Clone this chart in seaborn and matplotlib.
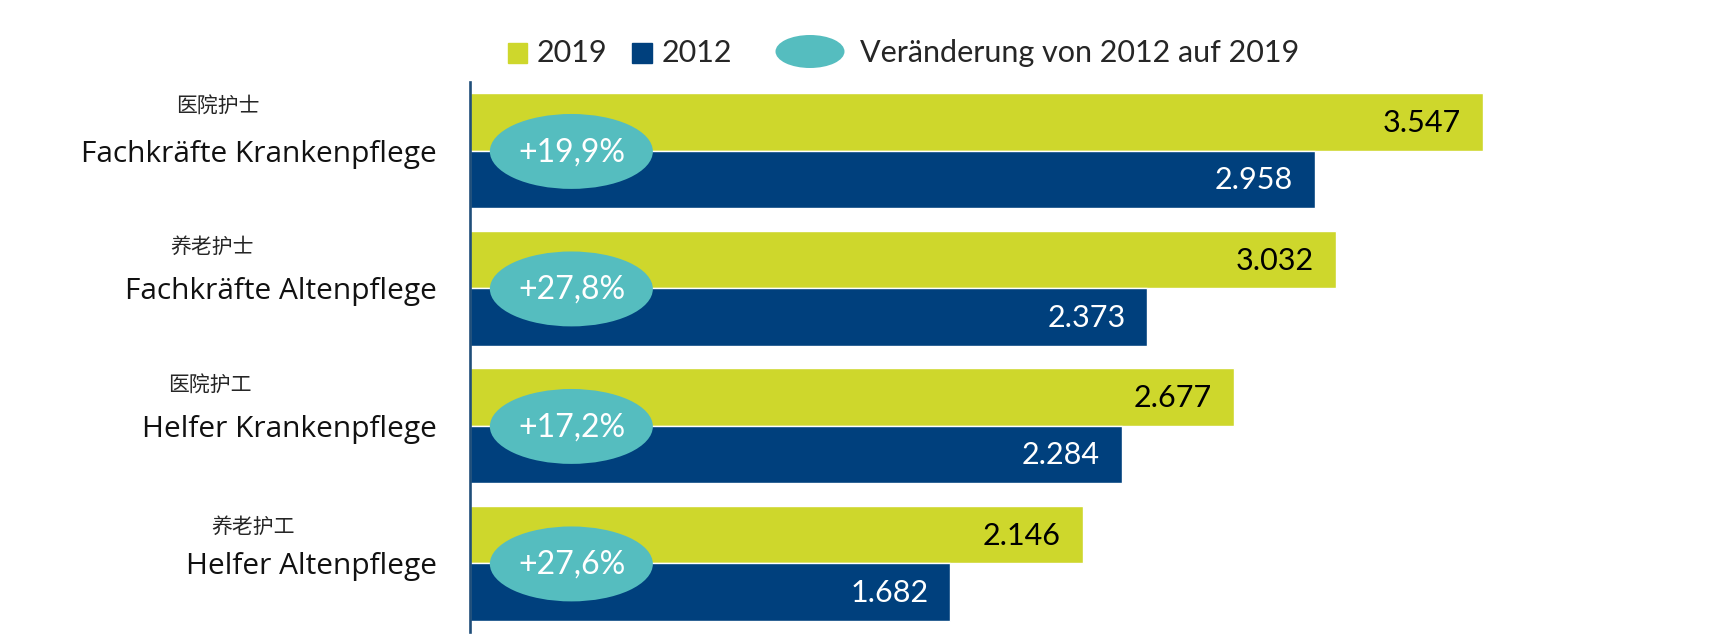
import pandas as pd
import matplotlib.pyplot as plt
import seaborn as sns
from matplotlib.patches import Ellipse, Rectangle

# Data
categories = ['Fachkräfte Krankenpflege', 'Fachkräfte Altenpflege',
              'Helfer Krankenpflege', 'Helfer Altenpflege']
categories_zh = ['医院护士', '养老护士', '医院护工', '养老护工']
values_2019 = [3547, 3032, 2677, 2146]
values_2012 = [2958, 2373, 2284, 1682]
years = ['2019', '2012']

GREEN = '#CED72C'
BLUE = '#00407D'
TEAL = '#55BDBF'

W, H = 1709, 634
fx = lambda px: px / W
fy = lambda py: 1 - py / H

df = pd.DataFrame({
    'category': categories * 2,
    'year': ['2019'] * 4 + ['2012'] * 4,
    'value': values_2019 + values_2012,
})

sns.set_style('white')
plt.rcParams['font.family'] = ['Lato', 'Noto Sans CJK SC', 'DejaVu Sans']
WIDE = ['Open Sans', 'DejaVu Sans']

fig = plt.figure(figsize=(W / 100, H / 100), dpi=100)
ax = fig.add_axes([fx(470), fy(632), 1142 / W, 550 / H])

sns.barplot(data=df, y='category', x='value', hue='year', hue_order=years,
            order=categories, palette={'2019': GREEN, '2012': BLUE},
            orient='h', width=0.836, gap=0, saturation=1, ax=ax, legend=False)

ax.set_xlim(0, 4000)
ax.set_ylim(3.5, -0.5)

# value labels inside the bar ends
for container, color in zip(ax.containers, ['black', 'white']):
    for bar in container:
        v = bar.get_width()
        ax.annotate(f'{int(v):,}'.replace(',', '.'),
                    xy=(v, bar.get_y() + bar.get_height() / 2),
                    xytext=(-22, -1), textcoords='offset pixels',
                    ha='right', va='center', fontsize=22, color=color)

# change ellipses
for i, (a, b) in enumerate(zip(values_2019, values_2012)):
    pct = (a / b - 1) * 100
    ax.add_patch(Ellipse((355, i + 0.005), 571, 0.545, color=TEAL, lw=0, zorder=5))
    ax.text(357, i + 0.01, f'+{pct:.1f}%'.replace('.', ','), ha='center', va='center',
            fontsize=23, color='white', zorder=6)

# y labels (German) and Chinese labels above
ax.set_yticks(range(len(categories)))
ax.set_yticklabels(categories, fontsize=21.5, family=WIDE, color='#111111')
ax.tick_params(axis='y', length=0, pad=24)
ax.set_xticks([])
ax.set_xlabel('')
ax.set_ylabel('')

zh_dx = [-252, -258, -260, -217]
zh_dy = [45, 41, 41, 36]
for i, (lab, dx, dy) in enumerate(zip(categories_zh, zh_dx, zh_dy)):
    ax.annotate(lab, xy=(0, i), xycoords=('axes fraction', 'data'),
                xytext=(dx, dy), textcoords='offset pixels',
                ha='center', va='center', fontsize=15,
                family=['Noto Sans CJK SC', 'DejaVu Sans'])

for s in ['top', 'right', 'bottom']:
    ax.spines[s].set_visible(False)
ax.spines['left'].set_color('#1F4E79')
ax.spines['left'].set_linewidth(1.9)

# legend
fig.add_artist(Rectangle((fx(508), fy(63)), 19 / W, 20 / H, color=GREEN, transform=fig.transFigure))
fig.text(fx(537), fy(53), '2019', ha='left', va='center', fontsize=22)
fig.add_artist(Rectangle((fx(632), fy(63)), 20 / W, 20 / H, color=BLUE, transform=fig.transFigure))
fig.text(fx(662), fy(53), '2012', ha='left', va='center', fontsize=22)
fig.add_artist(Ellipse((fx(810), fy(51.5)), 69 / W, 33 / H, color=TEAL, lw=0, transform=fig.transFigure))
fig.text(fx(860), fy(53), 'Veränderung von 2012 auf 2019', ha='left', va='center', fontsize=22)

plt.savefig('out.png', dpi=100)
plt.close()
